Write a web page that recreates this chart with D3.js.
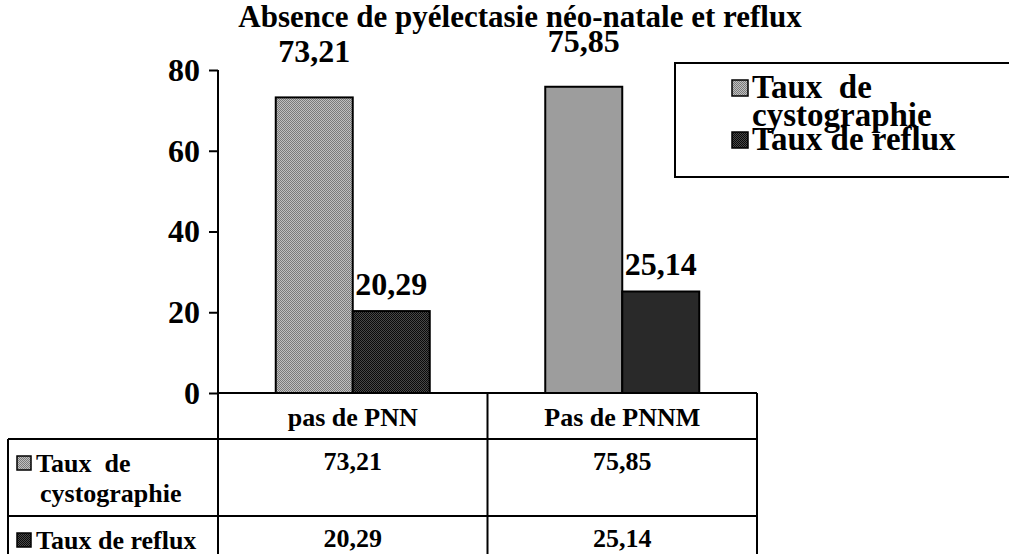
<!DOCTYPE html>
<html><head><meta charset="utf-8">
<script src="https://cdn.jsdelivr.net/npm/d3@7"></script>
<style>
body{margin:0;background:#fff}
svg text{font-family:'Liberation Serif','Times New Roman',serif !important;font-weight:bold;fill:#000;white-space:pre}
</style></head><body>
<svg id="c" width="1009" height="554"></svg>
<script>
const chartTitle = "Absence de pyélectasie néo-natale et reflux";
const categories = ["pas de PNN", "Pas de PNNM"];
const seriesKeys = ["cysto", "reflux"];
const seriesLabelLines = [["Taux  de", "cystographie"], ["Taux de reflux"]];
const cystoValues = [73.21, 75.85];
const refluxValues = [20.29, 25.14];
const yTickValues = [0, 20, 40, 60, 80];

const seriesValues = [cystoValues, refluxValues];
const fmt = v => d3.format(".2f")(v).replace(".", ",");

const svg = d3.select("#c");
const defs = svg.append("defs");
function dither(id, a, b) {
  const p = defs.append("pattern").attr("id", id).attr("patternUnits", "userSpaceOnUse")
    .attr("width", 2).attr("height", 2);
  p.append("rect").attr("width", 2).attr("height", 2).attr("fill", a);
  p.append("rect").attr("width", 1).attr("height", 1).attr("fill", b);
  p.append("rect").attr("x", 1).attr("y", 1).attr("width", 1).attr("height", 1).attr("fill", b);
}
dither("pLight", "#c0c0c0", "#7a7a7a");
dither("pDark", "#484848", "#0a0a0a");
const fills = ["url(#pLight)", "url(#pDark)"];
const labelOffset = [35, 16];

const plotL = 218, plotR = 757, y0 = 393, yTop = 70;
const y = d3.scaleLinear().domain([0, 80]).range([y0, yTop]);
const x0 = d3.scaleBand().domain(categories).range([plotL, plotR]).padding(0);
const x1 = d3.scaleBand().domain(seriesKeys).range([0, x0.bandwidth()]).paddingInner(0).paddingOuter(0.75);

// title
svg.append("text").attr("x", 520).attr("y", 27).attr("text-anchor", "middle")
  .style("font-size", "31px").text(chartTitle);

// axis
const ax = svg.append("g").attr("transform", `translate(${plotL},0)`)
  .call(d3.axisLeft(y).tickValues(yTickValues).tickSize(9).tickSizeOuter(0).tickPadding(9));
ax.attr("font-family", null).attr("font-size", null);
ax.selectAll("path,line").attr("stroke", "#000").attr("stroke-width", 2);
ax.selectAll("text").style("font-size", "32px");
ax.select(".domain").attr("d", `M0,${yTop}V554`);

// bars
const groups = svg.append("g").selectAll("g").data(categories).join("g")
  .attr("transform", d => `translate(${x0(d)},0)`);
seriesKeys.forEach((k, si) => {
  groups.append("rect")
    .attr("x", x1(k)).attr("width", x1.bandwidth())
    .attr("y", (d, i) => y(seriesValues[si][i]))
    .attr("height", (d, i) => y0 - y(seriesValues[si][i]))
    .attr("fill", fills[si]).attr("stroke", "#000").attr("stroke-width", 2);
  groups.append("text")
    .attr("x", x1(k) + x1.bandwidth() / 2)
    .attr("y", (d, i) => y(seriesValues[si][i]) - labelOffset[si])
    .attr("text-anchor", "middle").style("font-size", "32px")
    .text((d, i) => fmt(seriesValues[si][i]));
});

// data table
const tbl = svg.append("g");
const rowTop = [y0, 439, 516];
const tableL = 8;
const line = (xa, ya, xb, yb) => tbl.append("line").attr("x1", xa).attr("y1", ya).attr("x2", xb).attr("y2", yb)
  .attr("stroke", "#000").attr("stroke-width", 2);
line(plotL, y0, plotR, y0);
line(tableL, rowTop[1], plotR, rowTop[1]);
line(tableL, rowTop[2], plotR, rowTop[2]);
line(tableL, rowTop[1], tableL, 554);
line(plotR, y0, plotR, 554);
line(x0(categories[1]), y0, x0(categories[1]), 554);

categories.forEach(c => {
  tbl.append("text").attr("x", x0(c) + x0.bandwidth() / 2).attr("y", 426)
    .attr("text-anchor", "middle").style("font-size", "26px").text(c);
});
const rowBase = [470, 547];
seriesKeys.forEach((k, si) => {
  categories.forEach((c, ci) => {
    tbl.append("text").attr("x", x0(c) + x0.bandwidth() / 2).attr("y", rowBase[si])
      .attr("text-anchor", "middle").style("font-size", "26px").text(fmt(seriesValues[si][ci]));
  });
  tbl.append("rect").attr("x", 17).attr("y", rowBase[si] - 14).attr("width", 14).attr("height", 14)
    .attr("fill", fills[si]).attr("stroke", "#000").attr("stroke-width", 1.5);
  seriesLabelLines[si].forEach((t, li) => {
    tbl.append("text").attr("x", li === 0 ? 36 : 40).attr("y", rowBase[si] + 2 + li * 30)
      .style("font-size", "26px").text(t);
  });
});

// legend
const lg = svg.append("g");
lg.append("rect").attr("x", 675).attr("y", 63).attr("width", 400).attr("height", 114)
  .attr("fill", "#fff").attr("stroke", "#000").attr("stroke-width", 2);
const legBase = [98, 150];
seriesKeys.forEach((k, si) => {
  lg.append("rect").attr("x", 732).attr("y", legBase[si] - 18).attr("width", 16).attr("height", 16)
    .attr("fill", fills[si]).attr("stroke", "#000").attr("stroke-width", 1.5);
});
[["Taux  de", 98], ["cystographie", 126], ["Taux de reflux", 150]].forEach(([t, b]) => {
  lg.append("text").attr("x", 752).attr("y", b).style("font-size", "33px").text(t);
});
</script></body></html>
